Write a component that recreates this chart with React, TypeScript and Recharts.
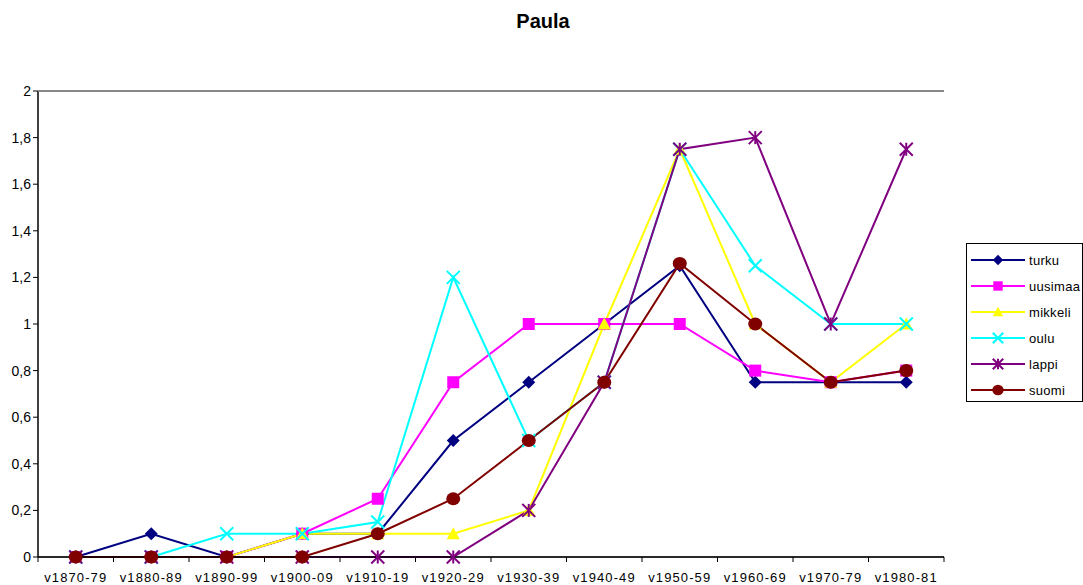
import { LineChart, Line, XAxis, YAxis, CartesianGrid } from "recharts"

const categories = ["v1870-79", "v1880-89", "v1890-99", "v1900-09", "v1910-19", "v1920-29", "v1930-39", "v1940-49", "v1950-59", "v1960-69", "v1970-79", "v1980-81"]
const turku = [0, 0.1, 0, 0.1, 0.1, 0.5, 0.75, 1, 1.25, 0.75, 0.75, 0.75]
const uusimaa = [0, 0, 0, 0.1, 0.25, 0.75, 1, 1, 1, 0.8, 0.75, 0.8]
const mikkeli = [0, 0, 0, 0.1, 0.1, 0.1, 0.2, 1, 1.75, 1, 0.75, 1]
const oulu = [0, 0, 0.1, 0.1, 0.15, 1.2, 0.5, 0.75, 1.75, 1.25, 1, 1]
const lappi = [0, 0, 0, 0, 0, 0, 0.2, 0.75, 1.75, 1.8, 1, 1.75]
const suomi = [0, 0, 0, 0, 0.1, 0.25, 0.5, 0.75, 1.26, 1, 0.75, 0.8]
const yTicks = [0, 0.2, 0.4, 0.6, 0.8, 1, 1.2, 1.4, 1.6, 1.8, 2]

const data = categories.map((c, i) => ({
  cat: c,
  turku: turku[i],
  uusimaa: uusimaa[i],
  mikkeli: mikkeli[i],
  oulu: oulu[i],
  lappi: lappi[i],
  suomi: suomi[i],
}))

type Shape = "diamond" | "square" | "triangle" | "x" | "star" | "circle"

const series: { key: string; color: string; shape: Shape }[] = [
  { key: "turku", color: "#000080", shape: "diamond" },
  { key: "uusimaa", color: "#FF00FF", shape: "square" },
  { key: "mikkeli", color: "#FFFF00", shape: "triangle" },
  { key: "oulu", color: "#00FFFF", shape: "x" },
  { key: "lappi", color: "#800080", shape: "star" },
  { key: "suomi", color: "#800000", shape: "circle" },
]

const font = "'Liberation Sans', Arial, sans-serif"

const Marker = ({ shape, color, x, y, s = 1 }: { shape: Shape; color: string; x: number; y: number; s?: number }) => {
  const h = 6.5 * s
  switch (shape) {
    case "diamond":
      return <polygon points={`${x},${y - h} ${x + h},${y} ${x},${y + h} ${x - h},${y}`} fill={color} />
    case "square":
      return <rect x={x - h + 0.5} y={y - h + 0.5} width={2 * h - 1} height={2 * h - 1} fill={color} />
    case "triangle":
      return <polygon points={`${x},${y - h} ${x + h},${y + h - 1} ${x - h},${y + h - 1}`} fill={color} />
    case "x":
      return (
        <g stroke={color} strokeWidth={2}>
          <line x1={x - h} y1={y - h} x2={x + h} y2={y + h} />
          <line x1={x - h} y1={y + h} x2={x + h} y2={y - h} />
        </g>
      )
    case "star":
      return (
        <g stroke={color} strokeWidth={2}>
          <line x1={x - h} y1={y - h} x2={x + h} y2={y + h} />
          <line x1={x - h} y1={y + h} x2={x + h} y2={y - h} />
          <line x1={x} y1={y - h} x2={x} y2={y + h} />
        </g>
      )
    default:
      return <ellipse cx={x} cy={y} rx={h + 0.5} ry={h} fill={color} />
  }
}

const bandHalf = (944 - 38) / 24

const XTick = (props: any) => {
  const { x, y, payload, index } = props
  const left = x - bandHalf
  return (
    <g>
      <line x1={left} y1={557} x2={left} y2={562} stroke="#000" />
      {index === categories.length - 1 && <line x1={x + bandHalf} y1={557} x2={x + bandHalf} y2={562} stroke="#000" />}
      <text x={x} y={y + 17} textAnchor="middle" fontSize={13} fontFamily={font} letterSpacing={1.1} fill="#000">
        {payload.value}
      </text>
    </g>
  )
}

const YTick = (props: any) => {
  const { x, y, payload } = props
  return (
    <text x={x} y={y + 5} textAnchor="end" fontSize={14} fontFamily={font} fill="#000">
      {String(payload.value).replace(".", ",")}
    </text>
  )
}

export default function App() {
  return (
    <div style={{ position: "absolute", left: 0, top: 0, width: 1083, height: 585, background: "#fff" }}>
      <div style={{ position: "absolute", left: 0, top: 10, width: 1086, textAlign: "center", fontFamily: font, fontWeight: "bold", fontSize: 20 }}>
        Paula
      </div>
      <LineChart width={1083} height={585} data={data} margin={{ top: 91, right: 139, bottom: 0, left: 0 }}>
        <CartesianGrid vertical={false} stroke="#303030" strokeOpacity={0.85} />
        <XAxis
          dataKey="cat"
          interval={0}
          height={28}
          padding={{ left: bandHalf, right: bandHalf }}
          tickLine={false}
          axisLine={{ stroke: "#000", strokeWidth: 1.5 }}
          tick={<XTick />}
        />
        <YAxis
          yAxisId="l"
          width={38}
          domain={[0, 2]}
          ticks={yTicks}
          interval={0}
          tickSize={5}
          tickMargin={2}
          tickLine={{ stroke: "#000" }}
          axisLine={{ stroke: "#000", strokeWidth: 1.5 }}
          tick={<YTick />}
        />
        <YAxis yAxisId="r" orientation="right" width={0} domain={[0, 2]} tick={false} tickLine={false} axisLine={{ stroke: "#888", strokeWidth: 2 }} />
        {series.map((s) => (
          <Line
            key={s.key}
            yAxisId="l"
            dataKey={s.key}
            type="linear"
            stroke={s.color}
            strokeWidth={2}
            isAnimationActive={false}
            dot={(p: any) => <Marker key={`${s.key}-${p.index}`} shape={s.shape} color={s.color} x={p.cx} y={p.cy} />}
            activeDot={false}
          />
        ))}
      </LineChart>
      <div style={{ position: "absolute", left: 38, top: 91, width: 906, height: 0, borderTop: "2px solid #888", marginTop: -1 }} />
      <div
        style={{
          position: "absolute",
          left: 966,
          top: 243,
          width: 115,
          height: 157,
          border: "1px solid #000",
          background: "#fff",
          fontFamily: font,
          fontSize: 13,
        }}
      >
        {series.map((s, i) => (
          <div key={s.key} style={{ position: "absolute", left: 0, top: 6 + i * 26, height: 20, display: "flex", alignItems: "center" }}>
            <svg width={60} height={20} style={{ display: "block" }}>
              <line x1={4} y1={10} x2={58} y2={10} stroke={s.color} strokeWidth={2} />
              <Marker shape={s.shape} color={s.color} x={31} y={10} s={0.8} />
            </svg>
            <span style={{ marginLeft: 2, letterSpacing: 0.3 }}>{s.key}</span>
          </div>
        ))}
      </div>
    </div>
  )
}
